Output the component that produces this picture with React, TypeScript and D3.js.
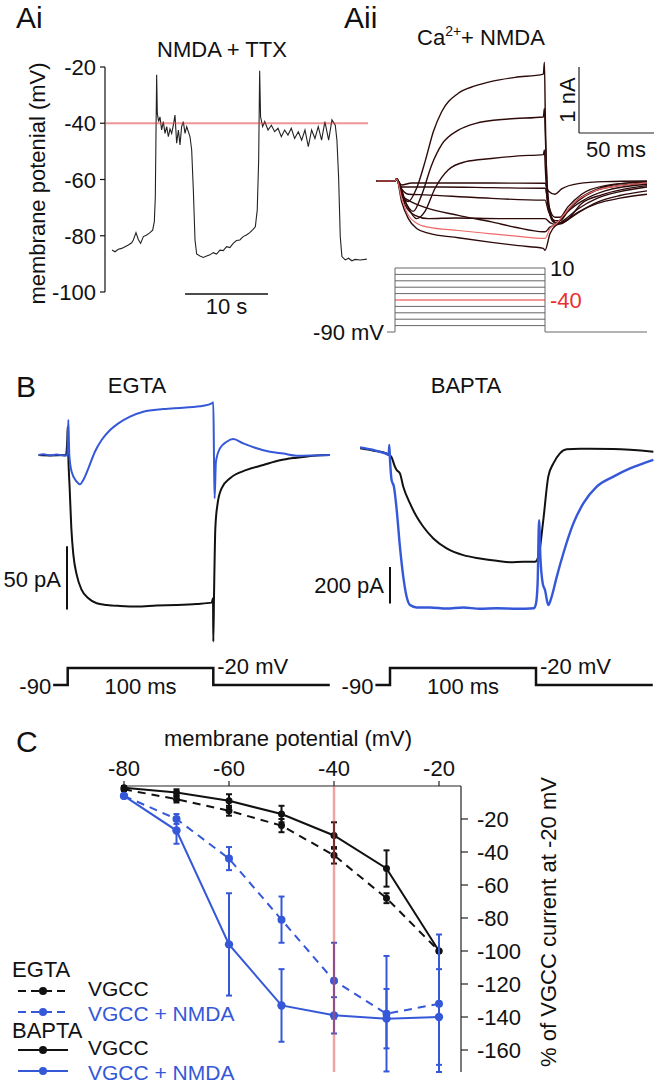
import React from 'react';
import * as d3 from 'd3';

const FONT = '"Liberation Sans", Arial, Helvetica, sans-serif';
const BLUE = '#3558d8';
const DARK = '#2e0a0a';
const RED = '#e83030';

// ---------- Panel Ai data (time s, membrane potential mV) ----------
const aiTicks = [-20, -40, -60, -80, -100];
const aiTrace: [number, number][] = [
  [0, -85.1], [0.36, -85.7], [0.76, -84.8], [1.16, -84.5], [1.57, -83.9], [1.97, -83.3], [2.37, -82.5],
  [2.57, -81.5], [2.89, -78.9], [3.17, -81.3], [3.45, -82.7], [3.78, -80.3], [4.18, -79.7], [4.58, -78.9],
  [4.9, -78.0], [5.1, -75.0], [5.22, -66.1], [5.3, -43.6], [5.38, -22.8], [5.46, -36.5], [5.62, -39.4],
  [5.78, -37.7], [5.98, -42.4], [6.18, -39.4], [6.39, -43.6], [6.59, -41.2], [6.79, -44.8], [6.99, -42.0],
  [7.19, -43.6], [7.39, -40.7], [7.59, -37.1], [7.79, -47.1], [8.0, -42.4], [8.19, -47.7], [8.39, -41.2],
  [8.59, -39.4], [8.8, -43.6], [9.0, -41.2], [9.2, -43.0], [9.4, -44.8], [9.6, -49.5], [9.8, -63.7],
  [10.0, -81.5], [10.2, -86.5], [10.6, -87.2], [11.0, -87.7], [11.4, -87.2], [11.8, -86.8], [12.2, -86.0],
  [12.6, -86.5], [13.0, -85.1], [13.4, -85.3], [13.8, -83.9], [14.2, -84.2], [14.6, -82.7], [15.0, -81.7],
  [15.4, -81.5], [15.8, -80.3], [16.2, -79.7], [16.6, -78.9], [17.0, -77.7], [17.27, -76.8], [17.5, -70.8],
  [17.67, -53.1], [17.79, -21.3], [17.9, -37.7], [18.15, -41.2], [18.4, -39.4], [18.8, -42.4], [19.2, -40.7],
  [19.6, -43.0], [20.0, -41.8], [20.4, -44.8], [20.8, -42.4], [21.2, -44.2], [21.6, -41.8], [22.0, -45.4],
  [22.45, -43.0], [22.85, -46.0], [23.25, -42.4], [23.65, -48.3], [24.05, -42.4], [24.45, -45.4],
  [24.85, -41.2], [25.25, -46.0], [25.65, -39.4], [26.1, -46.0], [26.5, -38.8], [26.9, -40.7], [27.1, -46.0],
  [27.3, -59.0], [27.5, -80.3], [27.7, -87.4], [28.1, -88.6], [28.5, -88.0], [28.9, -88.9], [29.3, -88.4],
  [29.9, -88.6], [30.7, -88.3],
];

// ---------- Panel Aii data (time ms, current nA) ----------
const aiiStepLevels = [-80, -70, -60, -50, -40, -30, -20, -10, 0, 10];
const aiiTraceP10: [number, number][] = [
  [-12.2, 0], [0, 0], [1.1, 0.03], [4.4, -0.21], [8.9, -0.31], [14.4, -0.11], [20, 0.29], [25.6, 0.75],
  [31.1, 1.05], [42.2, 1.33], [53.3, 1.44], [64.4, 1.51], [80, 1.57], [98.9, 1.62], [99.6, 1.8], [100.2, 1.0],
  [101.1, 0.1], [103.3, -0.45], [106.7, -0.63], [110, -0.6], [115, -0.45], [120, -0.32], [131, -0.16],
  [145, -0.06], [168, -0.01],
];
const aiiTrace0: [number, number][] = [
  [-12.2, 0], [0, 0], [1.1, 0.03], [6.7, -0.31], [12.2, -0.46], [17.8, -0.21], [24.4, 0.24], [31.1, 0.55],
  [42.2, 0.77], [53.3, 0.87], [75.6, 0.94], [98.9, 0.97], [99.6, 1.1], [100.2, 0.7], [101.1, 0.1],
  [103.3, -0.5], [107.8, -0.64], [112.2, -0.52], [122.2, -0.3], [133.3, -0.15], [146.7, -0.08], [168, -0.035],
];
const aiiTraceM10: [number, number][] = [
  [-12.2, 0], [0, 0], [1.1, 0.03], [7.8, -0.36], [14.4, -0.57], [20, -0.46], [26.7, -0.11], [35.6, 0.17],
  [46.7, 0.29], [64.4, 0.34], [82.2, 0.38], [98.9, 0.4], [99.6, 0.47], [100.2, 0.2], [101.5, -0.3],
  [105.6, -0.62], [110, -0.65], [114.4, -0.6], [124.4, -0.34], [137.8, -0.21], [168, -0.07],
];
const aiiTraceM80: [number, number][] = [
  [-12.2, 0], [0, 0], [1.1, 0.03], [4.4, -0.06], [11.1, -0.03], [31.1, -0.03], [64.4, -0.03], [98.9, -0.035],
  [100, -0.035], [102.2, -0.15], [106.7, -0.2], [111.1, -0.12], [122.2, -0.04], [140, -0.01], [168, 0],
];
const aiiTraceM70: [number, number][] = [
  [-12.2, 0], [0, 0], [1.1, 0.03], [4.4, -0.09], [11.1, -0.09], [31.1, -0.09], [64.4, -0.1], [98.9, -0.11],
  [100, -0.11], [102.2, -0.35], [106.7, -0.55], [110, -0.55], [115, -0.4], [124.4, -0.2], [140, -0.07], [168, -0.01],
];
const aiiTraceM60: [number, number][] = [
  [-12.2, 0], [0, 0], [1.1, 0.03], [4.4, -0.12], [8.9, -0.2], [20, -0.21], [53.3, -0.25], [98.9, -0.29],
  [100, -0.29], [102.2, -0.45], [106.7, -0.6], [110, -0.6], [115, -0.47], [125, -0.3], [140, -0.15], [168, -0.05],
];
const aiiTraceM50: [number, number][] = [
  [-12.2, 0], [0, 0], [1.1, 0.03], [6.7, -0.36], [13.3, -0.52], [22.2, -0.57], [40, -0.56], [70, -0.57],
  [98.9, -0.57], [100, -0.57], [103.3, -0.63], [107.8, -0.66], [112.2, -0.6], [122.2, -0.42], [135, -0.26],
  [150, -0.16], [168, -0.09],
];
const aiiTraceM40: [number, number][] = [
  [-12.2, 0], [0, 0], [1.1, 0.03], [4.4, -0.26], [8.9, -0.52], [14.4, -0.64], [22.2, -0.7], [42.2, -0.75],
  [64.4, -0.8], [82.2, -0.84], [98.9, -0.87], [100, -0.87], [103.3, -0.72], [107.8, -0.64], [112.2, -0.52],
  [120, -0.32], [133, -0.15], [150, -0.07], [168, -0.03],
];
const aiiTraceM30: [number, number][] = [
  [-12.2, 0], [0, 0], [1.1, 0.03], [4.4, -0.31], [8.9, -0.57], [14.4, -0.72], [22.2, -0.79], [42.2, -0.86],
  [64.4, -0.93], [82.2, -0.98], [98.9, -1.02], [100, -1.05], [103.3, -0.8], [107.8, -0.66], [112.2, -0.62],
  [122.2, -0.47], [135, -0.34], [150, -0.26], [168, -0.2],
];
const aiiTraceM20: [number, number][] = [
  [-12.2, 0], [0, 0], [1.1, 0.03], [4.4, -0.21], [8.9, -0.29], [20, -0.4], [42.2, -0.52], [64.4, -0.62],
  [80, -0.7], [98.9, -0.77], [100, -0.77], [103.3, -0.7], [108.4, -0.66], [113, -0.62], [122.2, -0.48],
  [135, -0.32], [150, -0.22], [168, -0.15],
];

// ---------- Panel B data (time ms, current pA) ----------
const egtaBlue: [number, number][] = [
  [-20, 0], [-16.7, 0.5], [-12, -0.3], [-7.6, 0.3], [-1.9, -0.5], [-0.25, 0], [0.43, 27.6], [1.1, 0],
  [2.7, -13.2], [6.2, -21.1], [8.4, -23.2], [10.7, -19.7], [14.2, -10.5], [18.7, 2.6], [23.3, 11.8],
  [29.1, 19.7], [34.8, 25], [42.8, 30.3], [51.9, 34.2], [65.7, 36.3], [79.4, 37.4], [93.1, 38.9],
  [98.9, 40.8], [100, 41.6], [100.5, -5.3], [100.9, -34.2], [101.8, -5.3], [104.6, 5.3], [109.2, 10.5],
  [113.7, 12.6], [120.6, 9.2], [129.8, 5.3], [138.9, 2.6], [148.1, 1.1], [157.3, -0.5], [168.7, -0.3], [180, 0],
];
const egtaBlack: [number, number][] = [
  [-20, 0], [-12.2, -0.3], [-1.2, 0], [-0.25, 13.2], [0, 22.1], [0.4, 0], [1.35, -26.3], [2.5, -57.9],
  [3.9, -78.9], [6.2, -94.7], [9.6, -106.6], [14.2, -113.2], [19.9, -117.1], [26.8, -118.4], [35.9, -119.2],
  [47.4, -119.7], [61.1, -118.9], [74.8, -118.4], [88.6, -117.6], [98.9, -116.6], [99.8, -113.2], [100, -147.4],
  [100.5, -110.5], [101.4, -57.9], [102.8, -39.5], [105.7, -26.3], [111.5, -18.4], [122.9, -11.8],
  [134.4, -7.9], [145.8, -4.2], [157.3, -2.1], [168.7, -0.5], [180, 0],
];
const baptaBlack: [number, number][] = [
  [-20.5, -1.8], [-11.4, -14.5], [-2.3, -29], [-0.5, -38], [1.1, -51], [3.4, -102], [4.6, -120], [6.8, -138],
  [9.1, -211], [13.7, -302], [18.3, -375], [22.8, -429], [29.7, -493], [38.8, -547], [50.2, -584],
  [61.6, -602], [73.1, -615], [82.2, -622], [91.3, -620], [99.3, -620], [101.6, -593], [105, -393],
  [108.4, -156], [111.9, -84], [116.4, -29], [121, -7], [130.1, -4], [153, -5.5], [180.4, -20],
];
const baptaBlue: [number, number][] = [
  [-20.5, 3.6], [-11.4, -11], [-2.3, -33], [-0.9, -38], [-0.5, 16], [0, -65], [1.1, -175], [2.7, -211],
  [4.6, -338], [6.8, -538], [9.1, -702], [11.4, -811], [13.7, -856], [18.3, -869], [27.4, -869],
  [38.8, -875], [50.2, -869], [61.6, -876], [73.1, -873], [86.8, -876], [98.6, -873], [100, -847],
  [101.1, -738], [102.1, -393], [103, -593], [104.6, -738], [106.2, -775], [108.4, -856], [110.7, -811],
  [114.2, -702], [118.7, -575], [125.6, -411], [132.4, -302], [141.6, -211], [153, -156], [164.4, -111],
  [173.5, -84], [180.4, -65],
];
const bProtocol: [number, number][] = [[-10, -90], [0, -90], [0, -20], [100, -20], [100, -90], [180, -90]];

// ---------- Panel C data ----------
const cVoltages = [-80, -70, -60, -50, -40, -30, -20];
const cTicksX = [-80, -60, -40, -20];
const cTicksY = [-20, -40, -60, -80, -100, -120, -140, -160];
const egtaVgcc = [-2, -8, -15, -24, -42, -68, -100];
const egtaVgccErr = [1, 2, 3, 4, 5, 3, 0];
const egtaNmda = [-6, -20, -44, -81, -118, -138, -132];
const egtaNmdaErr = [1, 3, 7, 14, 23, 35, 42];
const baptaVgcc = [-1, -4, -9, -17, -30, -50, -100];
const baptaVgccErr = [1, 2, 4, 5, 8, 11, 0];
const baptaNmda = [-6, -27, -96, -133, -139, -141, -140];
const baptaNmdaErr = [1, 8, 31, 22, 11, 18, 29];

const FS = 22;
const T = (p: any) => ({ fontFamily: FONT, fontSize: FS, fill: '#111', ...p });

function PanelAi() {
  const x = d3.scaleLinear().domain([0, 10]).range([112, 195]);
  const y = d3.scaleLinear().domain([-20, -100]).range([67, 292]);
  const line = d3.line<[number, number]>().x(d => x(d[0])).y(d => y(d[1]));
  return (
    <g>
      <text {...T({ fontSize: 30, x: 16, y: 28 })}>Ai</text>
      <text {...T({ x: 222, y: 57, textAnchor: 'middle' })}>NMDA + TTX</text>
      <line x1={105} x2={105} y1={y(-20)} y2={y(-100)} stroke="#111" strokeWidth={1.2} />
      {aiTicks.map(t => (
        <g key={t}>
          <line x1={100} x2={105} y1={y(t)} y2={y(t)} stroke="#111" strokeWidth={1.2} />
          <text {...T({ x: 96, y: y(t) + 8, textAnchor: 'end' })}>{t}</text>
        </g>
      ))}
      <text {...T({ textAnchor: 'middle' })} transform={`translate(45,${(y(-20) + y(-100)) / 2 + 4}) rotate(-90)`}>
        membrane potenial (mV)
      </text>
      <path d={line(aiTrace) || ''} fill="none" stroke="#222" strokeWidth={1.1} />
      <line x1={105} x2={368} y1={y(-40)} y2={y(-40)} stroke="#e04040" strokeOpacity={0.55} strokeWidth={2} />
      <line x1={x(8.8)} x2={x(18.8)} y1={294} y2={294} stroke="#111" strokeWidth={1.5} />
      <text {...T({ x: (x(8.8) + x(18.8)) / 2, y: 314, textAnchor: 'middle' })}>10 s</text>
    </g>
  );
}

function PanelAii() {
  const x = d3.scaleLinear().domain([0, 100]).range([395, 545]);
  const y = d3.scaleLinear().domain([0, 1]).range([181, 115]);
  const v = d3.scaleLinear().domain([-90, 10]).range([332, 268]);
  const line = d3.line<[number, number]>().x(d => x(d[0])).y(d => y(d[1])).curve(d3.curveMonotoneX);
  const dark = [aiiTraceM80, aiiTraceM70, aiiTraceM60, aiiTraceM50, aiiTraceM30, aiiTraceM20, aiiTraceM10, aiiTrace0, aiiTraceP10];
  return (
    <g>
      <text {...T({ fontSize: 30, x: 344, y: 28 })}>Aii</text>
      <text {...T({ x: 417, y: 45 })}>
        Ca<tspan dy={-9} fontSize={14}>2+</tspan>
        <tspan dy={9}>+ NMDA</tspan>
      </text>
      {/* scale bars */}
      <line x1={579} x2={579} y1={y(1)} y2={y(0)} transform={`translate(0,${133 - y(0)})`} stroke="#222" strokeWidth={1.2} />
      <line x1={579} x2={579 + (x(50) - x(0))} y1={133} y2={133} stroke="#222" strokeWidth={1.2} />
      <text {...T({ textAnchor: 'middle' })} transform={`translate(575,100) rotate(-90)`}>1 nA</text>
      <text {...T({ x: 616, y: 157, textAnchor: 'middle' })}>50 ms</text>
      {/* traces */}
      {dark.map((d, i) => (
        <path key={i} d={line(d) || ''} fill="none" stroke={DARK} strokeWidth={1.4} />
      ))}
      <path d={line(aiiTraceM40) || ''} fill="none" stroke="#ee6a6a" strokeWidth={1.2} />
      {/* voltage protocol */}
      <line x1={387} x2={x(0)} y1={v(-90)} y2={v(-90)} stroke="#666" strokeWidth={1} />
      <line x1={x(100)} x2={647} y1={v(-90)} y2={v(-90)} stroke="#666" strokeWidth={1} />
      <line x1={x(0)} x2={x(0)} y1={v(-90)} y2={v(10)} stroke="#666" strokeWidth={1} />
      <line x1={x(100)} x2={x(100)} y1={v(-90)} y2={v(10)} stroke="#666" strokeWidth={1} />
      {aiiStepLevels.map(l => (
        <line key={l} x1={x(0)} x2={x(100)} y1={v(l)} y2={v(l)} stroke={l === -40 ? RED : '#666'} strokeWidth={1} />
      ))}
      <text {...T({ x: 550, y: v(10) + 8 })}>10</text>
      <text {...T({ x: 550, y: v(-40) + 8, fill: RED })}>-40</text>
      <text {...T({ x: 384, y: v(-90) + 8, textAnchor: 'end' })}>-90 mV</text>
    </g>
  );
}

function PanelB() {
  const xl = d3.scaleLinear().domain([0, 100]).range([67.7, 213.3]);
  const yl = d3.scaleLinear().domain([0, 50]).range([455, 391.7]);
  const xr = d3.scaleLinear().domain([0, 100]).range([390, 536]);
  const yr = d3.scaleLinear().domain([0, 200]).range([448, 411.3]);
  const v = d3.scaleLinear().domain([-90, -20]).range([685, 668]);
  const mk = (x: any, y: any) => d3.line<[number, number]>().x(d => x(d[0])).y(d => y(d[1])).curve(d3.curveMonotoneX);
  const pl = d3.line<[number, number]>().x(d => xl(d[0])).y(d => v(d[1]));
  const pr = d3.line<[number, number]>().x(d => xr(d[0])).y(d => v(d[1]));
  const ll = mk(xl, yl);
  const lr = mk(xr, yr);
  return (
    <g>
      <text {...T({ fontSize: 30, x: 16, y: 397 })}>B</text>
      <text {...T({ x: 137, y: 393, textAnchor: 'middle' })}>EGTA</text>
      <text {...T({ x: 466, y: 393, textAnchor: 'middle' })}>BAPTA</text>
      <path d={ll(egtaBlack) || ''} fill="none" stroke="#111" strokeWidth={2} />
      <path d={ll(egtaBlue) || ''} fill="none" stroke={BLUE} strokeWidth={2} />
      <path d={lr(baptaBlack) || ''} fill="none" stroke="#111" strokeWidth={2} />
      <path d={lr(baptaBlue) || ''} fill="none" stroke={BLUE} strokeWidth={2.4} />
      {/* scale bars */}
      <line x1={67} x2={67} y1={yl(-72)} y2={yl(-122)} stroke="#111" strokeWidth={2} />
      <text {...T({ x: 61, y: 587, textAnchor: 'end' })}>50 pA</text>
      <line x1={390} x2={390} y1={yr(-648)} y2={yr(-848)} stroke="#111" strokeWidth={2} />
      <text {...T({ x: 384, y: 593, textAnchor: 'end' })}>200 pA</text>
      {/* protocols */}
      <path d={pl(bProtocol) || ''} fill="none" stroke="#111" strokeWidth={2.5} />
      <path d={pr(bProtocol) || ''} fill="none" stroke="#111" strokeWidth={2.5} />
      <text {...T({ x: xl(-10) - 2, y: 694, textAnchor: 'end' })}>-90</text>
      <text {...T({ x: xl(50), y: 694, textAnchor: 'middle' })}>100 ms</text>
      <text {...T({ x: xl(100) + 4, y: 674 })}>-20 mV</text>
      <text {...T({ x: xr(-10) - 2, y: 694, textAnchor: 'end' })}>-90</text>
      <text {...T({ x: xr(50), y: 694, textAnchor: 'middle' })}>100 ms</text>
      <text {...T({ x: xr(100) + 4, y: 674 })}>-20 mV</text>
    </g>
  );
}

function PanelC() {
  const x = d3.scaleLinear().domain([-80, -20]).range([124, 439]);
  const y = d3.scaleLinear().domain([0, -160]).range([786, 1050]);
  const yBottom = 1072;
  const minVal = y.invert(yBottom);
  const series = [
    { vals: egtaVgcc, err: egtaVgccErr, color: '#111', dash: '8,6', r: 3.5 },
    { vals: baptaVgcc, err: baptaVgccErr, color: '#111', dash: undefined, r: 3.5 },
    { vals: egtaNmda, err: egtaNmdaErr, color: BLUE, dash: '8,6', r: 4 },
    { vals: baptaNmda, err: baptaNmdaErr, color: BLUE, dash: undefined, r: 4.2 },
  ];
  const line = d3.line<number>().x((_, i) => x(cVoltages[i])).y(d => y(d));
  const legend = [
    { label: 'EGTA', header: true, ty: 977 },
    { label: 'VGCC', color: '#111', dash: '8,5', ly: 991, ty: 996 },
    { label: 'VGCC + NMDA', color: BLUE, dash: '8,5', ly: 1012, ty: 1021 },
    { label: 'BAPTA', header: true, ty: 1038 },
    { label: 'VGCC', color: '#111', dash: undefined, ly: 1050, ty: 1055 },
    { label: 'VGCC + NMDA', color: BLUE, dash: undefined, ly: 1071, ty: 1080 },
  ];
  return (
    <g>
      <text {...T({ fontSize: 30, x: 16, y: 752 })}>C</text>
      <text {...T({ x: 288, y: 746, textAnchor: 'middle' })}>membrane potential (mV)</text>
      <line x1={x(-80)} x2={461} y1={786} y2={786} stroke="#222" strokeWidth={1.2} />
      <line x1={461} x2={461} y1={786} y2={yBottom} stroke="#222" strokeWidth={1.2} />
      {cTicksX.map(t => (
        <g key={t}>
          <line x1={x(t)} x2={x(t)} y1={781} y2={786} stroke="#222" strokeWidth={1.2} />
          <text {...T({ x: x(t), y: 776, textAnchor: 'middle' })}>{t}</text>
        </g>
      ))}
      {cTicksY.map(t => (
        <g key={t}>
          <line x1={461} x2={468} y1={y(t)} y2={y(t)} stroke="#222" strokeWidth={1.2} />
          <text {...T({ x: 477, y: y(t) + 8 })}>{t}</text>
        </g>
      ))}
      <text {...T({ textAnchor: 'middle' })} transform={`translate(556,922) rotate(-90)`}>% of VGCC current at -20 mV</text>
      {series.map((s, si) => (
        <g key={si}>
          <path d={line(s.vals) || ''} fill="none" stroke={s.color} strokeWidth={2} strokeDasharray={s.dash} />
          {s.vals.map((vv, i) => {
            const hi = vv + s.err[i];
            const lo = Math.max(vv - s.err[i], minVal);
            const cx = x(cVoltages[i]);
            return (
              <g key={i}>
                {s.err[i] > 0 && (
                  <g stroke={s.color} strokeWidth={2}>
                    <line x1={cx} x2={cx} y1={y(hi)} y2={y(lo)} />
                    <line x1={cx - 3} x2={cx + 3} y1={y(hi)} y2={y(hi)} />
                    <line x1={cx - 3} x2={cx + 3} y1={y(lo)} y2={y(lo)} />
                  </g>
                )}
                <circle cx={cx} cy={y(vv)} r={s.r} fill={s.color} />
              </g>
            );
          })}
        </g>
      ))}
      <line x1={x(-40)} x2={x(-40)} y1={786} y2={yBottom} stroke="#e04848" strokeOpacity={0.5} strokeWidth={2.5} />
      {legend.map((l, i) =>
        l.header ? (
          <text key={i} {...T({ x: 12, y: l.ty })}>{l.label}</text>
        ) : (
          <g key={i}>
            <line x1={18} x2={68} y1={l.ly} y2={l.ly} stroke={l.color} strokeWidth={2} strokeDasharray={l.dash} />
            <circle cx={43} cy={l.ly} r={4} fill={l.color} />
            <text {...T({ x: 88, y: l.ty, fill: l.color, fontSize: 21 })}>{l.label}</text>
          </g>
        )
      )}
    </g>
  );
}

export default function App() {
  return (
    <svg width={662} height={1083} viewBox="0 0 662 1083" style={{ position: 'absolute', left: 0, top: 0, background: '#fff' }}>
      <rect width={662} height={1083} fill="#fff" />
      <PanelAi />
      <PanelAii />
      <PanelB />
      <PanelC />
    </svg>
  );
}
